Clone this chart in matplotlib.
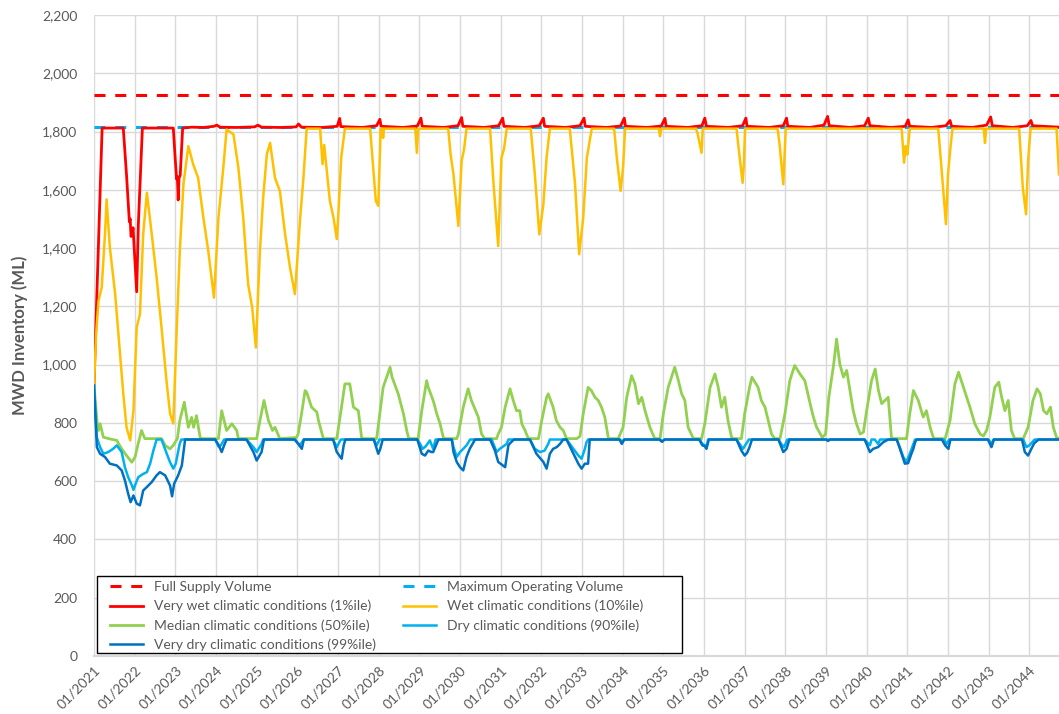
import matplotlib
matplotlib.use("Agg")
import matplotlib.pyplot as plt
from matplotlib.ticker import FuncFormatter, FixedLocator
from matplotlib.patches import Rectangle

plt.rcParams['font.family'] = ['Lato', 'DejaVu Sans']

# ---------------- data (decimal years, ML) ----------------
full_supply_volume = 1926
max_operating_volume = 1815
x_start, x_end = 2021.0, 2044.73
tick_years = list(range(2021, 2045))

very_wet_t = [2021.00, 2021.20, 2021.72, 2021.80, 2021.87, 2021.89, 2021.91, 2021.94, 2021.96, 2022.05,
              2022.09, 2022.19, 2022.95, 2023.00, 2023.03, 2023.05, 2023.07, 2023.09, 2023.12, 2023.18,
              2023.40, 2023.70, 2023.95, 2024.02, 2024.10, 2024.50, 2024.95, 2025.03, 2025.12, 2025.60,
              2025.97, 2026.03, 2026.10, 2026.60, 2026.98, 2027.04, 2027.07, 2027.60, 2027.95, 2028.03,
              2028.06, 2028.60, 2028.95, 2029.04, 2029.07, 2029.60, 2029.95, 2030.04, 2030.07, 2030.60,
              2030.95, 2031.05, 2031.08, 2031.60, 2031.95, 2032.05, 2032.08, 2032.60, 2032.95, 2033.05,
              2033.08, 2033.60, 2033.95, 2034.04, 2034.07, 2034.60, 2034.95, 2035.04, 2035.07, 2035.60,
              2035.95, 2036.02, 2036.06, 2036.60, 2036.95, 2037.03, 2037.06, 2037.60, 2037.95, 2038.03,
              2038.06, 2038.60, 2038.95, 2039.04, 2039.08, 2039.60, 2039.95, 2040.04, 2040.08, 2040.60,
              2040.95, 2041.02, 2041.06, 2041.60, 2041.95, 2042.05, 2042.09, 2042.60, 2042.95, 2043.05,
              2043.09, 2043.60, 2043.95, 2044.04, 2044.08, 2044.73]
very_wet_v = [930, 1812, 1812, 1650, 1490, 1500, 1440, 1450, 1470, 1250,
              1480, 1812, 1812, 1700, 1637, 1645, 1565, 1640, 1650, 1812,
              1815, 1814, 1818, 1822, 1815, 1814, 1816, 1822, 1815, 1814,
              1816, 1826, 1815, 1814, 1818, 1845, 1817, 1814, 1820, 1842,
              1818, 1814, 1819, 1846, 1818, 1814, 1820, 1848, 1818, 1814,
              1820, 1846, 1818, 1814, 1820, 1846, 1818, 1814, 1820, 1846,
              1818, 1814, 1819, 1846, 1818, 1814, 1819, 1845, 1818, 1814,
              1820, 1846, 1818, 1814, 1820, 1846, 1818, 1814, 1820, 1846,
              1818, 1814, 1822, 1852, 1820, 1814, 1820, 1846, 1820, 1814,
              1818, 1840, 1818, 1814, 1820, 1838, 1818, 1814, 1822, 1850,
              1820, 1814, 1820, 1838, 1820, 1815]

wet_t = [2021.00, 2021.05, 2021.11, 2021.19, 2021.27, 2021.31, 2021.39, 2021.52, 2021.64, 2021.72,
         2021.80, 2021.89, 2021.97, 2022.05, 2022.13, 2022.21, 2022.30, 2022.42, 2022.54, 2022.66,
         2022.79, 2022.87, 2022.95, 2023.03, 2023.11, 2023.20, 2023.32, 2023.44, 2023.56, 2023.69,
         2023.81, 2023.95, 2024.06, 2024.18, 2024.26, 2024.43, 2024.55, 2024.67, 2024.79, 2024.89,
         2024.98, 2025.08, 2025.16, 2025.25, 2025.33, 2025.45, 2025.57, 2025.70, 2025.82, 2025.94,
         2026.07, 2026.15, 2026.23, 2026.56, 2026.62, 2026.66, 2026.80, 2026.89, 2026.97, 2027.01,
         2027.08, 2027.17, 2027.79, 2027.84, 2027.93, 2027.99, 2028.05, 2028.09, 2028.11, 2028.13,
         2028.90, 2028.94, 2028.97, 2029.71, 2029.77, 2029.84, 2029.96, 2030.04, 2030.10, 2030.16,
         2030.74, 2030.82, 2030.94, 2031.02, 2031.08, 2031.15, 2031.74, 2031.84, 2031.95, 2032.05,
         2032.13, 2032.21, 2032.70, 2032.83, 2032.93, 2033.03, 2033.12, 2033.24, 2033.79, 2033.86,
         2033.95, 2034.01, 2034.06, 2034.89, 2034.92, 2034.95, 2035.80, 2035.84, 2035.94, 2035.97,
         2036.80, 2036.85, 2036.95, 2036.98, 2037.01, 2037.81, 2037.86, 2037.95, 2038.01, 2040.86,
         2040.92, 2040.96, 2041.00, 2041.06, 2041.76, 2041.84, 2041.95, 2042.00, 2042.06, 2042.11,
         2042.88, 2042.91, 2042.94, 2043.75, 2043.84, 2043.92, 2043.97, 2044.03, 2044.67, 2044.73]
wet_v = [928, 1100, 1219, 1265, 1447, 1567, 1402, 1243, 1038, 900,
         785, 740, 842, 1128, 1174, 1448, 1590, 1448, 1299, 1128,
         934, 832, 798, 1106, 1390, 1620, 1750, 1687, 1641, 1504,
         1390, 1230, 1504, 1676, 1807, 1790, 1676, 1504, 1276, 1196,
         1059, 1390, 1573, 1722, 1761, 1641, 1596, 1447, 1333, 1242,
         1504, 1641, 1810, 1810, 1688, 1754, 1562, 1504, 1431, 1520,
         1712, 1810, 1810, 1721, 1562, 1545, 1810, 1810, 1778, 1810,
         1810, 1727, 1810, 1810, 1720, 1653, 1476, 1699, 1739, 1810,
         1810, 1630, 1407, 1710, 1739, 1810, 1810, 1654, 1447, 1550,
         1712, 1810, 1810, 1619, 1379, 1504, 1710, 1810, 1810, 1705,
         1596, 1676, 1810, 1810, 1784, 1810, 1810, 1795, 1727, 1810,
         1810, 1745, 1624, 1687, 1810, 1810, 1755, 1619, 1810, 1810,
         1693, 1750, 1721, 1810, 1810, 1676, 1482, 1653, 1744, 1810,
         1810, 1761, 1810, 1810, 1607, 1516, 1699, 1810, 1810, 1653]

median_t = [2021.00, 2021.08, 2021.11, 2021.15, 2021.23, 2021.39, 2021.56, 2021.68, 2021.80, 2021.93,
            2022.01, 2022.09, 2022.17, 2022.25, 2022.66, 2022.75, 2022.87, 2022.95, 2023.05, 2023.11,
            2023.22, 2023.32, 2023.40, 2023.45, 2023.52, 2023.61, 2023.65, 2024.06, 2024.14, 2024.26,
            2024.39, 2024.51, 2024.55, 2025.00, 2025.08, 2025.18, 2025.29, 2025.39, 2025.45, 2025.57,
            2025.98, 2026.02, 2026.11, 2026.19, 2026.23, 2026.35, 2026.48, 2026.52, 2026.64, 2026.97,
            2027.05, 2027.17, 2027.29, 2027.38, 2027.50, 2027.58, 2027.62, 2027.95, 2028.11, 2028.28,
            2028.33, 2028.48, 2028.61, 2028.69, 2028.74, 2028.97, 2029.06, 2029.18, 2029.22, 2029.34,
            2029.43, 2029.51, 2029.59, 2029.63, 2029.92, 2029.96, 2030.08, 2030.20, 2030.28, 2030.45,
            2030.53, 2030.61, 2030.90, 2030.94, 2031.02, 2031.11, 2031.23, 2031.31, 2031.39, 2031.47,
            2031.52, 2031.60, 2031.68, 2031.93, 2032.01, 2032.13, 2032.17, 2032.29, 2032.37, 2032.46,
            2032.54, 2032.62, 2032.87, 2032.95, 2033.03, 2033.15, 2033.23, 2033.32, 2033.40, 2033.48,
            2033.56, 2033.65, 2033.89, 2034.01, 2034.10, 2034.22, 2034.30, 2034.39, 2034.47, 2034.55,
            2034.67, 2034.79, 2034.92, 2035.00, 2035.12, 2035.28, 2035.36, 2035.45, 2035.53, 2035.61,
            2035.74, 2035.94, 2036.02, 2036.15, 2036.27, 2036.35, 2036.43, 2036.51, 2036.59, 2036.68,
            2036.72, 2036.92, 2037.00, 2037.12, 2037.18, 2037.33, 2037.41, 2037.50, 2037.58, 2037.66,
            2037.74, 2037.87, 2037.99, 2038.11, 2038.23, 2038.36, 2038.48, 2038.61, 2038.69, 2038.77,
            2038.91, 2038.99, 2039.07, 2039.19, 2039.26, 2039.34, 2039.43, 2039.51, 2039.59, 2039.67,
            2039.75, 2039.84, 2039.92, 2040.00, 2040.12, 2040.21, 2040.29, 2040.37, 2040.45, 2040.53,
            2040.61, 2040.65, 2040.98, 2041.06, 2041.15, 2041.27, 2041.39, 2041.47, 2041.56, 2041.64,
            2041.68, 2041.93, 2042.05, 2042.17, 2042.26, 2042.38, 2042.46, 2042.54, 2042.66, 2042.79,
            2042.87, 2042.95, 2043.03, 2043.15, 2043.25, 2043.32, 2043.40, 2043.48, 2043.56, 2043.64,
            2043.85, 2043.97, 2044.09, 2044.19, 2044.27, 2044.35, 2044.43, 2044.52, 2044.59, 2044.67,
            2044.73]
median_v = [928, 797, 774, 797, 751, 745, 740, 711, 688, 665,
            683, 731, 774, 746, 746, 723, 711, 723, 746, 808,
            871, 785, 819, 785, 825, 750, 746, 746, 842, 774,
            797, 774, 746, 746, 808, 877, 808, 774, 785, 746,
            750, 762, 837, 911, 905, 854, 837, 808, 746, 746,
            820, 934, 934, 854, 842, 750, 746, 746, 922, 991,
            957, 900, 831, 774, 746, 746, 842, 945, 922, 877,
            831, 797, 750, 746, 746, 762, 854, 917, 877, 820,
            762, 746, 746, 762, 785, 854, 917, 877, 842, 842,
            797, 774, 746, 746, 808, 888, 900, 854, 808, 785,
            774, 746, 746, 754, 831, 922, 911, 888, 877, 854,
            820, 746, 746, 785, 888, 962, 934, 866, 888, 842,
            785, 746, 746, 831, 922, 991, 951, 900, 877, 785,
            746, 746, 797, 922, 968, 922, 854, 888, 808, 750,
            746, 746, 831, 922, 957, 922, 877, 854, 808, 762,
            746, 746, 831, 945, 997, 968, 945, 866, 820, 785,
            750, 762, 888, 1002, 1088, 1002, 957, 980, 911, 842,
            797, 762, 768, 842, 945, 985, 911, 866, 877, 888,
            750, 746, 746, 831, 911, 877, 820, 842, 785, 750,
            746, 746, 808, 934, 974, 922, 888, 854, 797, 762,
            755, 774, 820, 922, 940, 888, 842, 877, 774, 746,
            746, 785, 877, 917, 900, 842, 831, 854, 785, 750,
            746]

dry_t = [2021.00, 2021.07, 2021.15, 2021.23, 2021.35, 2021.47, 2021.56, 2021.68, 2021.76, 2021.84,
         2021.93, 2021.97, 2022.02, 2022.09, 2022.21, 2022.30, 2022.38, 2022.46, 2022.54, 2022.66,
         2022.79, 2022.87, 2022.95, 2023.01, 2023.11, 2023.15, 2023.98, 2024.06, 2024.12, 2024.20,
         2024.75, 2024.92, 2025.00, 2025.12, 2025.16, 2025.95, 2026.05, 2026.12, 2026.16, 2026.88,
         2026.97, 2027.03, 2027.07, 2027.88, 2027.95, 2028.02, 2028.95, 2029.02, 2029.08, 2029.16,
         2029.26, 2029.34, 2029.40, 2029.80, 2029.84, 2029.92, 2030.00, 2030.08, 2030.16, 2030.25,
         2030.78, 2030.90, 2030.98, 2031.15, 2031.19, 2031.72, 2031.84, 2031.97, 2032.08, 2032.17,
         2032.21, 2032.62, 2032.79, 2032.91, 2032.99, 2033.07, 2033.11, 2033.15, 2033.94, 2033.98,
         2034.04, 2034.92, 2034.97, 2035.03, 2035.90, 2035.96, 2036.02, 2036.06, 2036.10, 2036.80,
         2036.96, 2037.02, 2037.06, 2037.10, 2037.83, 2037.90, 2037.97, 2038.05, 2039.95, 2040.08,
         2040.12, 2040.20, 2040.28, 2040.33, 2040.74, 2040.82, 2040.90, 2040.98, 2041.06, 2041.15,
         2041.19, 2041.90, 2041.97, 2042.03, 2043.00, 2043.07, 2043.12, 2043.85, 2043.93, 2044.00,
         2044.08, 2044.13, 2044.73]
dry_v = [928, 750, 717, 694, 700, 711, 723, 700, 648, 614,
         586, 570, 590, 614, 625, 631, 660, 705, 743, 743,
         694, 665, 643, 660, 730, 743, 743, 719, 723, 743,
         743, 717, 700, 728, 743, 743, 723, 735, 743, 743,
         717, 733, 743, 743, 723, 743, 743, 728, 711, 720,
         740, 711, 743, 743, 717, 683, 700, 711, 723, 743,
         743, 700, 711, 728, 743, 743, 711, 700, 705, 728,
         743, 743, 711, 688, 677, 711, 733, 743, 743, 735,
         743, 743, 737, 743, 743, 728, 723, 717, 743, 743,
         711, 725, 733, 743, 743, 728, 717, 743, 743, 723,
         743, 743, 728, 743, 743, 715, 683, 666, 694, 728,
         743, 743, 728, 743, 743, 728, 743, 743, 717, 723,
         735, 743, 743]

very_dry_t = [2021.00, 2021.07, 2021.15, 2021.27, 2021.39, 2021.56, 2021.68, 2021.76, 2021.84, 2021.90,
              2021.97, 2022.05, 2022.13, 2022.21, 2022.30, 2022.42, 2022.54, 2022.62, 2022.75, 2022.87,
              2022.92, 2022.97, 2023.07, 2023.16, 2023.24, 2023.98, 2024.06, 2024.14, 2024.20, 2024.26,
              2024.75, 2024.92, 2025.00, 2025.12, 2025.18, 2025.93, 2026.03, 2026.11, 2026.16, 2026.88,
              2026.97, 2027.09, 2027.14, 2027.18, 2027.88, 2027.95, 2027.99, 2028.04, 2028.10, 2028.95,
              2029.06, 2029.14, 2029.22, 2029.30, 2029.34, 2029.47, 2029.80, 2029.84, 2029.92, 2030.00,
              2030.08, 2030.16, 2030.24, 2030.37, 2030.74, 2030.86, 2030.94, 2031.11, 2031.19, 2031.25,
              2031.33, 2031.72, 2031.88, 2032.05, 2032.13, 2032.21, 2032.29, 2032.38, 2032.46, 2032.54,
              2032.62, 2032.79, 2032.91, 2032.99, 2033.07, 2033.15, 2033.19, 2033.92, 2033.98, 2034.04,
              2034.90, 2034.97, 2035.03, 2035.88, 2035.96, 2036.02, 2036.06, 2036.12, 2036.80, 2036.92,
              2037.00, 2037.06, 2037.12, 2037.18, 2037.83, 2037.95, 2038.03, 2038.10, 2039.00, 2039.05,
              2039.10, 2039.95, 2040.08, 2040.16, 2040.28, 2040.40, 2040.53, 2040.74, 2040.86, 2040.94,
              2041.02, 2041.10, 2041.15, 2041.19, 2041.23, 2041.85, 2041.93, 2042.01, 2042.06, 2042.98,
              2043.07, 2043.13, 2043.82, 2043.89, 2043.97, 2044.05, 2044.12, 2044.23, 2044.73]
very_dry_v = [928, 717, 694, 683, 660, 654, 637, 603, 557, 528,
              551, 523, 517, 568, 580, 597, 620, 631, 620, 585,
              548, 591, 620, 654, 743, 743, 725, 700, 723, 743,
              743, 700, 671, 700, 743, 743, 727, 711, 743, 743,
              700, 677, 723, 743, 743, 711, 694, 711, 743, 743,
              694, 688, 705, 700, 700, 743, 743, 700, 666, 648,
              637, 683, 711, 743, 743, 705, 666, 648, 723, 733,
              743, 743, 694, 666, 643, 694, 711, 717, 728, 743,
              743, 694, 660, 643, 660, 660, 743, 743, 728, 743,
              743, 735, 743, 743, 723, 720, 711, 743, 743, 705,
              688, 697, 717, 743, 743, 700, 711, 743, 743, 738,
              743, 743, 700, 711, 717, 733, 743, 743, 694, 660,
              662, 694, 712, 733, 743, 743, 723, 711, 743, 743,
              717, 743, 743, 700, 688, 711, 730, 743, 743]

labels = ["Full Supply Volume", "Maximum Operating Volume",
          "Very wet climatic conditions (1%ile)", "Wet climatic conditions (10%ile)",
          "Median climatic conditions (50%ile)", "Dry climatic conditions (90%ile)",
          "Very dry climatic conditions (99%ile)"]
colors = ["#FF0000", "#00B0F0", "#FF0000", "#FFC000", "#92D050", "#00B0F0", "#0070C0"]

# ---------------- figure ----------------
fig = plt.figure(figsize=(10.59, 7.14), dpi=100)
ax = fig.add_axes([94 / 1059, 58 / 714, 965 / 1059, 641 / 714])

text_color = "#595959"
grid_color = "#D9D9D9"

dash = (3.6, 3.2)
h_fsv, = ax.plot([x_start, x_end], [full_supply_volume] * 2, color=colors[0], lw=2.2,
                 linestyle=(0, dash), label=labels[0])
h_mov, = ax.plot([x_start, x_end], [max_operating_volume] * 2, color=colors[1], lw=2.2,
                 linestyle=(0, dash), label=labels[1])
lw = 1.8
h_vw, = ax.plot(very_wet_t, very_wet_v, color=colors[2], lw=2.0, label=labels[2])
h_w, = ax.plot(wet_t, wet_v, color=colors[3], lw=lw, label=labels[3])
h_m, = ax.plot(median_t, median_v, color=colors[4], lw=2.0, label=labels[4])
h_d, = ax.plot(dry_t, dry_v, color=colors[5], lw=lw, label=labels[5])
h_vd, = ax.plot(very_dry_t, very_dry_v, color=colors[6], lw=lw, label=labels[6])

ax.set_xlim(x_start, x_end)
ax.set_ylim(0, 2200)
ax.yaxis.set_major_locator(FixedLocator(list(range(0, 2201, 200))))
ax.yaxis.set_major_formatter(FuncFormatter(lambda v, p: f"{int(v):,}"))
ax.set_xticks(tick_years)
ax.set_xticklabels([f"01/{y}" for y in tick_years], rotation=45, ha="right",
                   rotation_mode="anchor")

ax.grid(True, color=grid_color, lw=1.0)
ax.set_axisbelow(True)
for s in ["top", "right", "left"]:
    ax.spines[s].set_visible(False)
ax.spines["bottom"].set_color(grid_color)
ax.spines["bottom"].set_linewidth(1.6)
ax.tick_params(axis="both", length=0, colors=text_color, labelsize=10)
ax.tick_params(axis="y", pad=12)
ax.tick_params(axis="x", pad=6)
ax.set_ylabel("MWD Inventory (ML)", fontsize=12, fontweight="bold", color=text_color,
              labelpad=10)

# legend box (drawn as a frame) and legend entries
ax.add_patch(Rectangle((3 / 965, 3 / 641), 585 / 965, 77 / 641, transform=ax.transAxes,
                       facecolor="white", edgecolor="black", lw=1.0, zorder=4))
handles = [h_fsv, h_vw, h_m, h_vd, h_mov, h_w, h_d]
leg = ax.legend(handles=handles, labels=[h.get_label() for h in handles], ncol=2,
                loc="upper left", bbox_to_anchor=(16 / 965, 74.8 / 641), fontsize=10,
                frameon=False, borderpad=0, labelspacing=0.48, handlelength=2.4,
                handletextpad=0.8, columnspacing=1.9, borderaxespad=0)
leg.set_zorder(5)
for t in leg.get_texts():
    t.set_color(text_color)

fig.savefig("out.png", dpi=100)
